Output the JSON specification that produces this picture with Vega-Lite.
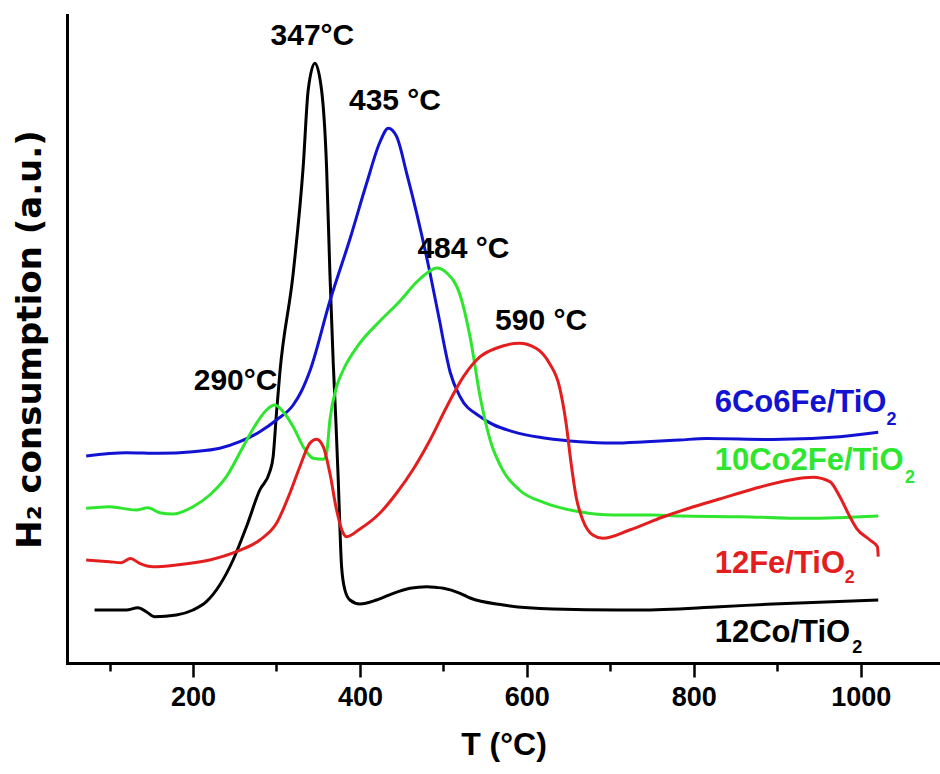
{
  "$schema": "https://vega.github.io/schema/vega-lite/v6.json",
  "width": 873,
  "height": 648,
  "autosize": {"type": "none"},
  "padding": {"left": 67, "top": 15, "right": 0, "bottom": 111},
  "background": "white",
  "config": {
    "font": "Liberation Sans",
    "view": {"stroke": null},
    "axis": {"grid": false, "domainColor": "#000000", "domainWidth": 3, "domainCap": "square", "tickColor": "#000000", "labelColor": "#000000", "titleColor": "#000000", "titleFont": "Liberation Sans", "labelFont": "Liberation Sans"}
  },
  "datasets": {
    "curves": [
      {"s": "12Co/TiO2", "T": 82, "v": 53}, {"s": "12Co/TiO2", "T": 120, "v": 53}, {"s": "12Co/TiO2", "T": 134, "v": 55.3}, {"s": "12Co/TiO2", "T": 144, "v": 51.3}, {"s": "12Co/TiO2", "T": 154, "v": 46.3}, {"s": "12Co/TiO2", "T": 180, "v": 48}, {"s": "12Co/TiO2", "T": 200, "v": 53}, {"s": "12Co/TiO2", "T": 216, "v": 61.3}, {"s": "12Co/TiO2", "T": 232, "v": 78}, {"s": "12Co/TiO2", "T": 248, "v": 103}, {"s": "12Co/TiO2", "T": 264, "v": 136.3}, {"s": "12Co/TiO2", "T": 280, "v": 173}, {"s": "12Co/TiO2", "T": 292, "v": 191.3}, {"s": "12Co/TiO2", "T": 296, "v": 206.3}, {"s": "12Co/TiO2", "T": 300, "v": 250}, {"s": "12Co/TiO2", "T": 304, "v": 290}, {"s": "12Co/TiO2", "T": 320, "v": 389.7}, {"s": "12Co/TiO2", "T": 332, "v": 496.3}, {"s": "12Co/TiO2", "T": 338, "v": 573}, {"s": "12Co/TiO2", "T": 346, "v": 599.7}, {"s": "12Co/TiO2", "T": 354, "v": 573}, {"s": "12Co/TiO2", "T": 360, "v": 496.3}, {"s": "12Co/TiO2", "T": 364, "v": 389.7}, {"s": "12Co/TiO2", "T": 368, "v": 300}, {"s": "12Co/TiO2", "T": 371, "v": 245}, {"s": "12Co/TiO2", "T": 374, "v": 183}, {"s": "12Co/TiO2", "T": 378, "v": 96.3}, {"s": "12Co/TiO2", "T": 382, "v": 73}, {"s": "12Co/TiO2", "T": 388, "v": 63}, {"s": "12Co/TiO2", "T": 400, "v": 59}, {"s": "12Co/TiO2", "T": 420, "v": 63}, {"s": "12Co/TiO2", "T": 440, "v": 69.7}, {"s": "12Co/TiO2", "T": 460, "v": 74.7}, {"s": "12Co/TiO2", "T": 480, "v": 76.3}, {"s": "12Co/TiO2", "T": 492, "v": 75.5}, {"s": "12Co/TiO2", "T": 500, "v": 74.7}, {"s": "12Co/TiO2", "T": 520, "v": 69.7}, {"s": "12Co/TiO2", "T": 532, "v": 65}, {"s": "12Co/TiO2", "T": 572, "v": 58}, {"s": "12Co/TiO2", "T": 631, "v": 54}, {"s": "12Co/TiO2", "T": 711, "v": 53}, {"s": "12Co/TiO2", "T": 735, "v": 53}, {"s": "12Co/TiO2", "T": 831, "v": 56.3}, {"s": "12Co/TiO2", "T": 895, "v": 59}, {"s": "12Co/TiO2", "T": 1021, "v": 63},
      {"s": "6Co6Fe/TiO2", "T": 72, "v": 207}, {"s": "6Co6Fe/TiO2", "T": 120, "v": 210.3}, {"s": "6Co6Fe/TiO2", "T": 160, "v": 209.7}, {"s": "6Co6Fe/TiO2", "T": 200, "v": 211.3}, {"s": "6Co6Fe/TiO2", "T": 232, "v": 214.7}, {"s": "6Co6Fe/TiO2", "T": 256, "v": 221.3}, {"s": "6Co6Fe/TiO2", "T": 280, "v": 231.3}, {"s": "6Co6Fe/TiO2", "T": 300, "v": 243}, {"s": "6Co6Fe/TiO2", "T": 320, "v": 258}, {"s": "6Co6Fe/TiO2", "T": 330, "v": 272}, {"s": "6Co6Fe/TiO2", "T": 340, "v": 292}, {"s": "6Co6Fe/TiO2", "T": 364, "v": 362}, {"s": "6Co6Fe/TiO2", "T": 388, "v": 424}, {"s": "6Co6Fe/TiO2", "T": 408, "v": 479.7}, {"s": "6Co6Fe/TiO2", "T": 424, "v": 521}, {"s": "6Co6Fe/TiO2", "T": 434, "v": 534.7}, {"s": "6Co6Fe/TiO2", "T": 444, "v": 526.3}, {"s": "6Co6Fe/TiO2", "T": 456, "v": 489.7}, {"s": "6Co6Fe/TiO2", "T": 468, "v": 449.7}, {"s": "6Co6Fe/TiO2", "T": 484, "v": 389.7}, {"s": "6Co6Fe/TiO2", "T": 496, "v": 339.7}, {"s": "6Co6Fe/TiO2", "T": 500, "v": 322}, {"s": "6Co6Fe/TiO2", "T": 508, "v": 291}, {"s": "6Co6Fe/TiO2", "T": 520, "v": 266.3}, {"s": "6Co6Fe/TiO2", "T": 544, "v": 246.3}, {"s": "6Co6Fe/TiO2", "T": 583, "v": 231.3}, {"s": "6Co6Fe/TiO2", "T": 623, "v": 224.7}, {"s": "6Co6Fe/TiO2", "T": 663, "v": 221.3}, {"s": "6Co6Fe/TiO2", "T": 703, "v": 220}, {"s": "6Co6Fe/TiO2", "T": 743, "v": 221.3}, {"s": "6Co6Fe/TiO2", "T": 783, "v": 223}, {"s": "6Co6Fe/TiO2", "T": 815, "v": 224.5}, {"s": "6Co6Fe/TiO2", "T": 895, "v": 223.5}, {"s": "6Co6Fe/TiO2", "T": 975, "v": 226.3}, {"s": "6Co6Fe/TiO2", "T": 1021, "v": 230.7},
      {"s": "10Co2Fe/TiO2", "T": 72, "v": 154.7}, {"s": "10Co2Fe/TiO2", "T": 100, "v": 156.3}, {"s": "10Co2Fe/TiO2", "T": 132, "v": 153}, {"s": "10Co2Fe/TiO2", "T": 146, "v": 155.3}, {"s": "10Co2Fe/TiO2", "T": 160, "v": 150.3}, {"s": "10Co2Fe/TiO2", "T": 176, "v": 149}, {"s": "10Co2Fe/TiO2", "T": 200, "v": 156.3}, {"s": "10Co2Fe/TiO2", "T": 220, "v": 168}, {"s": "10Co2Fe/TiO2", "T": 240, "v": 186.3}, {"s": "10Co2Fe/TiO2", "T": 260, "v": 216.3}, {"s": "10Co2Fe/TiO2", "T": 276, "v": 239.7}, {"s": "10Co2Fe/TiO2", "T": 288, "v": 253}, {"s": "10Co2Fe/TiO2", "T": 298, "v": 258}, {"s": "10Co2Fe/TiO2", "T": 308, "v": 251.3}, {"s": "10Co2Fe/TiO2", "T": 320, "v": 236.3}, {"s": "10Co2Fe/TiO2", "T": 332, "v": 216.3}, {"s": "10Co2Fe/TiO2", "T": 344, "v": 204.7}, {"s": "10Co2Fe/TiO2", "T": 356, "v": 203.7}, {"s": "10Co2Fe/TiO2", "T": 360, "v": 209.7}, {"s": "10Co2Fe/TiO2", "T": 364, "v": 243}, {"s": "10Co2Fe/TiO2", "T": 372, "v": 276.3}, {"s": "10Co2Fe/TiO2", "T": 380, "v": 293}, {"s": "10Co2Fe/TiO2", "T": 400, "v": 320}, {"s": "10Co2Fe/TiO2", "T": 424, "v": 342}, {"s": "10Co2Fe/TiO2", "T": 448, "v": 362}, {"s": "10Co2Fe/TiO2", "T": 468, "v": 381}, {"s": "10Co2Fe/TiO2", "T": 482, "v": 391}, {"s": "10Co2Fe/TiO2", "T": 492, "v": 395}, {"s": "10Co2Fe/TiO2", "T": 504, "v": 390}, {"s": "10Co2Fe/TiO2", "T": 520, "v": 368}, {"s": "10Co2Fe/TiO2", "T": 532, "v": 326}, {"s": "10Co2Fe/TiO2", "T": 544, "v": 266.3}, {"s": "10Co2Fe/TiO2", "T": 556, "v": 223}, {"s": "10Co2Fe/TiO2", "T": 571, "v": 193}, {"s": "10Co2Fe/TiO2", "T": 591, "v": 173}, {"s": "10Co2Fe/TiO2", "T": 623, "v": 159.7}, {"s": "10Co2Fe/TiO2", "T": 663, "v": 151.3}, {"s": "10Co2Fe/TiO2", "T": 703, "v": 148}, {"s": "10Co2Fe/TiO2", "T": 751, "v": 148}, {"s": "10Co2Fe/TiO2", "T": 783, "v": 147}, {"s": "10Co2Fe/TiO2", "T": 855, "v": 146.3}, {"s": "10Co2Fe/TiO2", "T": 935, "v": 144.7}, {"s": "10Co2Fe/TiO2", "T": 1021, "v": 147},
      {"s": "12Fe/TiO2", "T": 72, "v": 103}, {"s": "12Fe/TiO2", "T": 100, "v": 101.3}, {"s": "12Fe/TiO2", "T": 114, "v": 100.3}, {"s": "12Fe/TiO2", "T": 125, "v": 104.5}, {"s": "12Fe/TiO2", "T": 136, "v": 99.7}, {"s": "12Fe/TiO2", "T": 152, "v": 96.3}, {"s": "12Fe/TiO2", "T": 180, "v": 98}, {"s": "12Fe/TiO2", "T": 220, "v": 103}, {"s": "12Fe/TiO2", "T": 252, "v": 111.3}, {"s": "12Fe/TiO2", "T": 280, "v": 123}, {"s": "12Fe/TiO2", "T": 300, "v": 139.7}, {"s": "12Fe/TiO2", "T": 316, "v": 169.7}, {"s": "12Fe/TiO2", "T": 328, "v": 196.3}, {"s": "12Fe/TiO2", "T": 340, "v": 219.7}, {"s": "12Fe/TiO2", "T": 348, "v": 223.7}, {"s": "12Fe/TiO2", "T": 356, "v": 216.3}, {"s": "12Fe/TiO2", "T": 364, "v": 189.7}, {"s": "12Fe/TiO2", "T": 372, "v": 153}, {"s": "12Fe/TiO2", "T": 380, "v": 129.7}, {"s": "12Fe/TiO2", "T": 384, "v": 126.3}, {"s": "12Fe/TiO2", "T": 400, "v": 134}, {"s": "12Fe/TiO2", "T": 424, "v": 150}, {"s": "12Fe/TiO2", "T": 444, "v": 170}, {"s": "12Fe/TiO2", "T": 464, "v": 194}, {"s": "12Fe/TiO2", "T": 484, "v": 223}, {"s": "12Fe/TiO2", "T": 504, "v": 256.3}, {"s": "12Fe/TiO2", "T": 524, "v": 286.3}, {"s": "12Fe/TiO2", "T": 544, "v": 306.3}, {"s": "12Fe/TiO2", "T": 564, "v": 315}, {"s": "12Fe/TiO2", "T": 591, "v": 319.7}, {"s": "12Fe/TiO2", "T": 611, "v": 314.7}, {"s": "12Fe/TiO2", "T": 627, "v": 299.7}, {"s": "12Fe/TiO2", "T": 639, "v": 276.3}, {"s": "12Fe/TiO2", "T": 647, "v": 239.7}, {"s": "12Fe/TiO2", "T": 653, "v": 199.7}, {"s": "12Fe/TiO2", "T": 659, "v": 166.3}, {"s": "12Fe/TiO2", "T": 667, "v": 143}, {"s": "12Fe/TiO2", "T": 679, "v": 128}, {"s": "12Fe/TiO2", "T": 691, "v": 124.7}, {"s": "12Fe/TiO2", "T": 723, "v": 133}, {"s": "12Fe/TiO2", "T": 763, "v": 146}, {"s": "12Fe/TiO2", "T": 795, "v": 155}, {"s": "12Fe/TiO2", "T": 831, "v": 164}, {"s": "12Fe/TiO2", "T": 871, "v": 174}, {"s": "12Fe/TiO2", "T": 915, "v": 183}, {"s": "12Fe/TiO2", "T": 943, "v": 185.7}, {"s": "12Fe/TiO2", "T": 963, "v": 181.3}, {"s": "12Fe/TiO2", "T": 975, "v": 166.3}, {"s": "12Fe/TiO2", "T": 987, "v": 146.3}, {"s": "12Fe/TiO2", "T": 995, "v": 134.7}, {"s": "12Fe/TiO2", "T": 1011, "v": 123}, {"s": "12Fe/TiO2", "T": 1020, "v": 116.3}, {"s": "12Fe/TiO2", "T": 1021, "v": 106.3}
    ],
    "peaks": [
      {"label": "347°C", "T": 343, "v": 618},
      {"label": "435 °C", "T": 442, "v": 553},
      {"label": "484 °C", "T": 524, "v": 405},
      {"label": "590 °C", "T": 617, "v": 333},
      {"label": "290°C", "T": 251, "v": 273}
    ],
    "names": [
      {"s": "6Co6Fe/TiO2", "label": "6Co6Fe/TiO", "T": 825, "v": 251},
      {"s": "10Co2Fe/TiO2", "label": "10Co2Fe/TiO", "T": 825, "v": 193},
      {"s": "12Fe/TiO2", "label": "12Fe/TiO", "T": 825, "v": 90},
      {"s": "12Co/TiO2", "label": "12Co/TiO", "T": 825, "v": 21}
    ],
    "subs": [
      {"s": "6Co6Fe/TiO2", "label": "2", "T": 1031, "v": 238},
      {"s": "10Co2Fe/TiO2", "label": "2", "T": 1053, "v": 180},
      {"s": "12Fe/TiO2", "label": "2", "T": 981, "v": 80},
      {"s": "12Co/TiO2", "label": "2", "T": 990, "v": 10}
    ]
  },
  "encoding": {
    "x": {
      "field": "T", "type": "quantitative",
      "scale": {"domain": [49, 1095], "nice": false, "zero": false},
      "axis": {
        "title": "T (°C)",
        "values": [100, 200, 300, 400, 500, 600, 700, 800, 900, 1000],
        "format": "d",
        "labelExpr": "datum.value % 200 === 0 ? datum.label : ''",
        "tickSize": {"condition": {"test": "datum.value % 200 === 0", "value": 14}, "value": 8},
        "tickWidth": 2.5,
        "labelFontSize": 27, "labelFontWeight": "bold", "labelPadding": 7,
        "titleFontSize": 32, "titleFontWeight": "bold", "titlePadding": 19,
        "labelFlush": false, "labelOverlap": false
      }
    },
    "y": {
      "field": "v", "type": "quantitative",
      "scale": {"domain": [0, 648], "nice": false, "zero": false},
      "axis": {
        "title": "H₂ consumption (a.u.)",
        "ticks": false, "labels": false,
        "titleFont": "DejaVu Sans",
        "titleFontSize": 34, "titleFontWeight": "bold", "titlePadding": 20
      }
    }
  },
  "layer": [
    {
      "data": {"name": "curves"},
      "mark": {"type": "line", "strokeWidth": 3, "interpolate": "monotone"},
      "encoding": {
        "color": {"field": "s", "type": "nominal", "legend": null,
          "scale": {"domain": ["12Co/TiO2", "6Co6Fe/TiO2", "10Co2Fe/TiO2", "12Fe/TiO2"], "range": ["#000000", "#1212d2", "#2fe62f", "#e41e1e"]}}
      }
    },
    {
      "data": {"name": "peaks"},
      "mark": {"type": "text", "fontSize": 30, "fontWeight": "bold", "align": "center", "baseline": "alphabetic", "color": "#000000"},
      "encoding": {"text": {"field": "label", "type": "nominal"}}
    },
    {
      "data": {"name": "names"},
      "mark": {"type": "text", "fontSize": 31, "fontWeight": "bold", "align": "left", "baseline": "alphabetic"},
      "encoding": {
        "text": {"field": "label", "type": "nominal"},
        "color": {"field": "s", "type": "nominal", "legend": null}
      }
    },
    {
      "data": {"name": "subs"},
      "mark": {"type": "text", "fontSize": 18, "fontWeight": "bold", "align": "left", "baseline": "alphabetic"},
      "encoding": {
        "text": {"field": "label", "type": "nominal"},
        "color": {"field": "s", "type": "nominal", "legend": null}
      }
    }
  ]
}
